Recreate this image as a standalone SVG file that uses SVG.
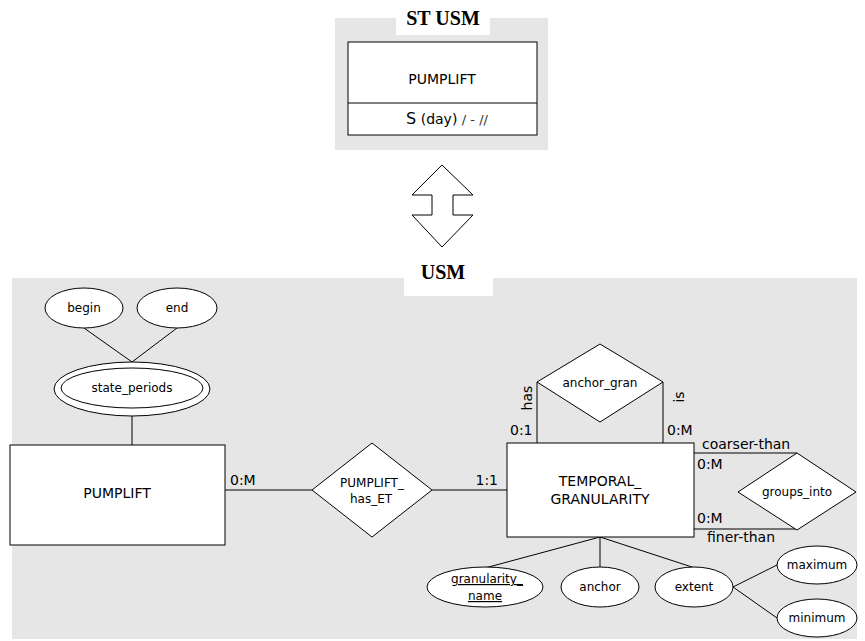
<svg xmlns="http://www.w3.org/2000/svg" width="865" height="641" viewBox="0 0 865 641">
<style>
.bg{fill:#e6e6e6;stroke:none}
.lbl{fill:#fff;stroke:none}
.n{fill:#fff;stroke:#000;stroke-width:1}
.ln{stroke:#000;stroke-width:1;fill:none}
.t{font-family:"DejaVu Sans",Verdana,sans-serif;font-size:12px;fill:#000;text-anchor:middle}
.u{font-family:"DejaVu Sans",Verdana,sans-serif;font-size:14px;fill:#000;text-anchor:middle}
.c{font-family:"DejaVu Sans",Verdana,sans-serif;font-size:14px;fill:#000}
.h{font-family:"Liberation Serif","Times New Roman",serif;font-weight:bold;font-size:20px;fill:#000;text-anchor:middle}
</style>
<rect class="bg" x="335" y="18" width="213" height="132"/>
<rect class="lbl" x="396" y="0" width="94" height="35"/>
<text class="h" x="443" y="25">ST USM</text>
<g id="st_pumplift">
<rect class="n" x="348" y="42" width="189" height="93"/>
<line class="ln" x1="348" y1="103" x2="537" y2="103"/>
<text class="u" x="442" y="84">PUMPLIFT</text>
<text class="u" x="447" y="124"><tspan font-size="16">S</tspan> <tspan font-size="14">(day)</tspan> <tspan font-size="13" fill="#333">/ - //</tspan></text>
</g>
<g id="double_arrow">
<polygon class="n" points="442,165 473,195 453,195 453,215 473,215 442,247 412,215 432,215 432,195 412,195"/>
</g>
<rect class="bg" x="12" y="278" width="845" height="361"/>
<rect class="lbl" x="404" y="260" width="89" height="36"/>
<text class="h" x="443" y="279" font-size="19">USM</text>
<g id="connectors">
<line class="ln" x1="84" y1="328" x2="132" y2="362"/>
<line class="ln" x1="177" y1="328" x2="132" y2="362"/>
<line class="ln" x1="132" y1="416" x2="132" y2="445"/>
<line class="ln" x1="225" y1="490" x2="312" y2="490"/>
<line class="ln" x1="432" y1="490" x2="507" y2="490"/>
<line class="ln" x1="537" y1="382" x2="537" y2="443"/>
<line class="ln" x1="663" y1="382" x2="663" y2="443"/>
<line class="ln" x1="694" y1="453" x2="797" y2="453"/>
<line class="ln" x1="694" y1="529" x2="797" y2="529"/>
<line class="ln" x1="600" y1="537" x2="485" y2="568"/>
<line class="ln" x1="600" y1="537" x2="600" y2="567"/>
<line class="ln" x1="600" y1="537" x2="695" y2="568"/>
<line class="ln" x1="733" y1="587" x2="777" y2="565"/>
<line class="ln" x1="733" y1="587" x2="777" y2="618"/>
</g>
<g id="begin"><ellipse class="n" cx="84" cy="308" rx="39" ry="20"/><text class="t" x="84" y="312">begin</text></g>
<g id="end"><ellipse class="n" cx="177" cy="308" rx="40" ry="20"/><text class="t" x="177" y="312">end</text></g>
<g id="state_periods"><ellipse class="n" cx="132" cy="389" rx="78" ry="27"/><ellipse class="n" cx="132" cy="388" rx="71" ry="20"/><text class="t" x="132" y="392">state_periods</text></g>
<g id="pumplift"><rect class="n" x="10" y="445" width="215" height="100"/><text class="u" x="117" y="498">PUMPLIFT</text></g>
<g id="pumplift_has_et"><polygon class="n" points="372,443 432,490 372,537 312,490"/><text class="t" x="372" y="487" font-size="13">PUMPLIFT_</text><text class="t" x="371" y="503" font-size="13">has_ET</text></g>
<g id="temporal_granularity"><rect class="n" x="507" y="443" width="187" height="94"/><text class="u" x="600" y="486">TEMPORAL_</text><text class="u" x="600" y="504">GRANULARITY</text></g>
<g id="anchor_gran"><polygon class="n" points="600,344 663,382 600,422 537,382"/><text class="t" x="600" y="387">anchor_gran</text></g>
<g id="groups_into"><polygon class="n" points="797,453 856,492 797,530 738,492"/><text class="t" x="797" y="496">groups_into</text></g>
<g id="granularity_name"><ellipse class="n" cx="485" cy="587" rx="58" ry="20"/><text class="t" x="487" y="583" text-decoration="underline">granularity_</text><text class="t" x="485" y="600" text-decoration="underline">name</text></g>
<g id="anchor"><ellipse class="n" cx="600" cy="587" rx="39" ry="20"/><text class="t" x="600" y="591">anchor</text></g>
<g id="extent"><ellipse class="n" cx="694" cy="587" rx="39" ry="20"/><text class="t" x="694" y="591">extent</text></g>
<g id="maximum"><ellipse class="n" cx="817" cy="565" rx="40" ry="19"/><text class="t" x="817" y="569">maximum</text></g>
<g id="minimum"><ellipse class="n" cx="817" cy="618" rx="40" ry="19"/><text class="t" x="817" y="622">minimum</text></g>
<g id="labels">
<text class="c" x="230" y="485">0:M</text>
<text class="c" x="498" y="485" text-anchor="end">1:1</text>
<text class="c" x="510" y="435">0:1</text>
<text class="c" x="667" y="435">0:M</text>
<text class="c" x="532" y="398" text-anchor="middle" transform="rotate(-90 532 398)">has</text>
<text class="c" x="684" y="397" text-anchor="middle" transform="rotate(-90 684 397)">is</text>
<text class="c" x="702" y="449">coarser-than</text>
<text class="c" x="697" y="469">0:M</text>
<text class="c" x="697" y="523">0:M</text>
<text class="c" x="707" y="542">finer-than</text>
</g>
</svg>
